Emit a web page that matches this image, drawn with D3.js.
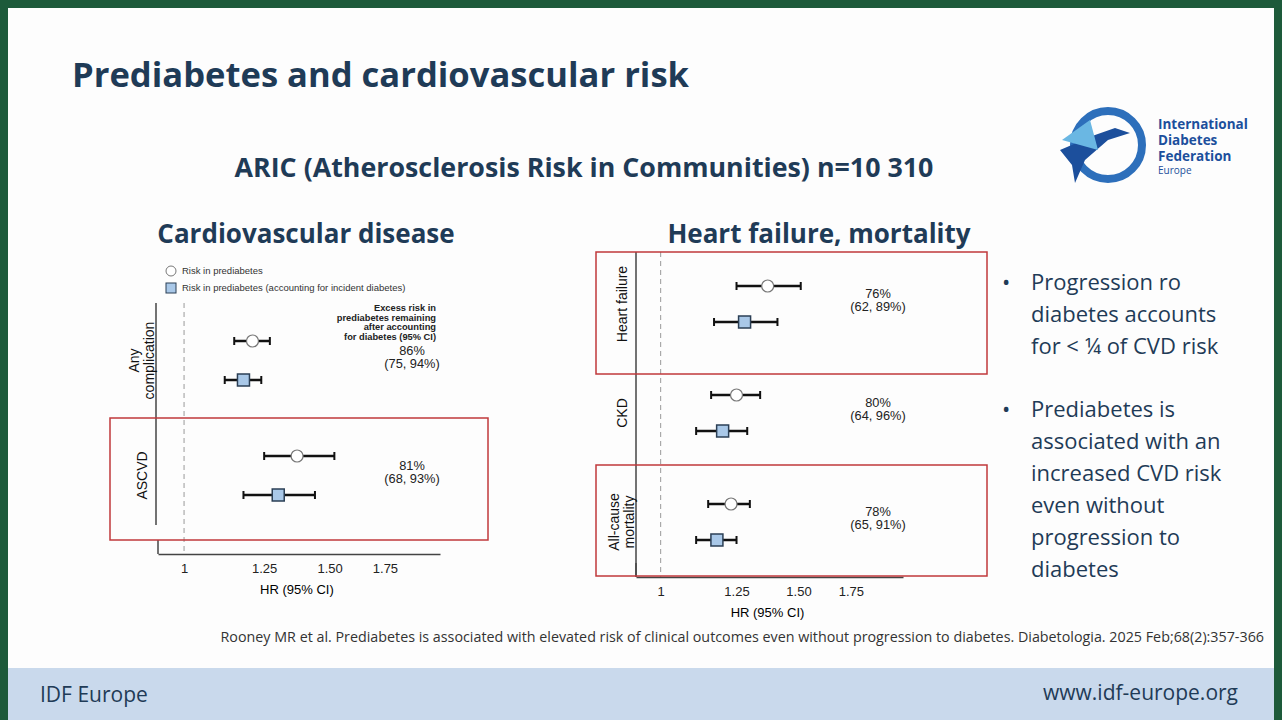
<!DOCTYPE html>
<html><head><meta charset="utf-8">
<script src="https://cdn.jsdelivr.net/npm/d3@7"></script>
<style>
body{margin:0;background:#1d5a3a;}
svg{display:block;font-family:"Open Sans",Arial,sans-serif;}
</style></head>
<body><svg id="c" width="1282" height="720"></svg>
<script>
// data
var leftRows = ["Any complication", "ASCVD"];
var leftCircle = [[1.21, 1.15, 1.27], [1.37, 1.25, 1.52]];
var leftSquare = [[1.18, 1.12, 1.24], [1.30, 1.18, 1.44]];
var leftExcess = [["86%", "(75, 94%)"], ["81%", "(68, 93%)"]];

var rightRows = ["Heart failure", "CKD", "All-cause mortality"];
var rightCircle = [[1.37, 1.25, 1.51], [1.25, 1.16, 1.34], [1.23, 1.15, 1.30]];
var rightSquare = [[1.28, 1.17, 1.41], [1.20, 1.11, 1.29], [1.18, 1.11, 1.25]];
var rightExcess = [["76%", "(62, 89%)"], ["80%", "(64, 96%)"], ["78%", "(65, 91%)"]];

var ticks = [1, 1.25, 1.5, 1.75];
var tickLabels = ["1", "1.25", "1.50", "1.75"];

var svg = d3.select("#c");
var navy = "#1f3b57";

// slide background
svg.append("rect").attr("x", 8).attr("y", 8).attr("width", 1266).attr("height", 712).attr("fill", "#fdfdfd");
svg.append("rect").attr("x", 8).attr("y", 668).attr("width", 1266).attr("height", 52).attr("fill", "#c9d9ec");
svg.append("text").attr("x", 40).attr("y", 702).attr("font-size", 21).attr("fill", navy).text("IDF Europe");
svg.append("text").attr("x", 1238).attr("y", 700).attr("text-anchor", "end").attr("font-size", 21).attr("fill", navy).text("www.idf-europe.org");

svg.append("text").attr("x", 72).attr("y", 87).attr("font-size", 34.6).attr("font-weight", "bold").attr("fill", navy).text("Prediabetes and cardiovascular risk");
svg.append("text").attr("x", 584).attr("y", 177).attr("text-anchor", "middle").attr("font-size", 26.8).attr("font-weight", "bold").attr("fill", navy).text("ARIC (Atherosclerosis Risk in Communities)  n=10 310");
svg.append("text").attr("x", 306).attr("y", 243).attr("text-anchor", "middle").attr("font-size", 26).attr("font-weight", "bold").attr("fill", navy).text("Cardiovascular disease");
svg.append("text").attr("x", 819).attr("y", 243).attr("text-anchor", "middle").attr("font-size", 26).attr("font-weight", "bold").attr("fill", navy).text("Heart failure, mortality");

// logo
var logo = svg.append("g");
logo.append("circle").attr("cx", 1108).attr("cy", 145).attr("r", 34).attr("fill", "none").attr("stroke", "#2d6fbb").attr("stroke-width", 8);
logo.append("path").attr("d", "M1060,150 L1095,135 L1115,128 L1130,133 L1108,140 L1085,160 L1075,183 L1072,165 Z").attr("fill", "#1c4f9c");
logo.append("path").attr("d", "M1062,140 L1090,120 L1098,150 Z").attr("fill", "#6ab7e3");
["International", "Diabetes", "Federation"].forEach(function(t, i) {
  logo.append("text").attr("x", 1158).attr("y", 129 + i * 16).attr("font-size", 13.5).attr("font-weight", "bold").attr("fill", "#1c4f9c").text(t);
});
logo.append("text").attr("x", 1158).attr("y", 174).attr("font-size", 10).attr("fill", "#1c4f9c").text("Europe");

// bullets
var bullets = [["Progression ro", "diabetes accounts", "for < \u00bc of CVD risk"],
  ["Prediabetes is", "associated with an", "increased CVD risk", "even without", "progression to", "diabetes"]];
var by = 290;
bullets.forEach(function(b, bi) {
  svg.append("text").attr("x", 1002).attr("y", by).attr("font-size", 22).attr("fill", navy).text("\u2022");
  b.forEach(function(l, li) {
    svg.append("text").attr("x", 1031).attr("y", by + li * 32).attr("font-size", 22).attr("fill", navy).text(l);
  });
  by += b.length * 32 + 31;
});

svg.append("text").attr("x", 1264).attr("y", 642).attr("text-anchor", "end").attr("font-size", 14.3).attr("fill", "#333")
  .text("Rooney MR et al. Prediabetes is associated with elevated risk of clinical outcomes even without progression to diabetes. Diabetologia. 2025 Feb;68(2):357-366");

function panel(o) {
  var g = svg.append("g");
  var x = d3.scaleLog().domain([0.93, 2.04]).range([o.x0, o.x1]);
  var ax = g.append("g").attr("transform", "translate(0," + o.axisY + ")")
    .call(d3.axisBottom(x).tickValues(ticks).tickSize(0).tickPadding(10).tickFormat(function(d, i) { return tickLabels[i]; }));
  ax.select(".domain").attr("stroke", "#444").attr("stroke-width", 1.5);
  ax.selectAll("text").attr("font-size", 13).attr("fill", "#222").attr("font-family", "Liberation Sans, Arial");
  g.append("text").attr("x", (x(1.25) + x(1.5)) / 2).attr("y", o.axisY + 40).attr("text-anchor", "middle").attr("font-size", 13)
    .attr("font-family", "Liberation Sans, Arial").text("HR (95% CI)");
  g.append("line").attr("x1", o.x0).attr("x2", o.x0).attr("y1", o.axisY - 14).attr("y2", o.axisY).attr("stroke", "#444").attr("stroke-width", 1.5);
  g.append("line").attr("x1", o.x0 - o.vOff).attr("x2", o.x0 - o.vOff).attr("y1", o.vTop).attr("y2", o.vBot).attr("stroke", "#444").attr("stroke-width", 1.5);
  g.append("line").attr("x1", x(1)).attr("x2", x(1)).attr("y1", o.vTop).attr("y2", o.axisY).attr("stroke", "#999").attr("stroke-dasharray", "5,4");

  var y = d3.scaleLinear().domain([0, 1]).range([o.rowY0, o.rowY0 + o.rowStep]);
  o.boxes.forEach(function(bx) {
    g.append("rect").attr("x", bx[0]).attr("y", bx[1]).attr("width", bx[2]).attr("height", bx[3])
      .attr("fill", "none").attr("stroke", "#c0393b").attr("stroke-width", 1.5);
  });
  o.rows.forEach(function(r, i) {
    var cy = y(i), sy = y(i) + o.gap;
    [[o.circ[i], cy], [o.sq[i], sy]].forEach(function(p) {
      var d = p[0], yy = p[1];
      g.append("line").attr("x1", x(d[1])).attr("x2", x(d[2])).attr("y1", yy).attr("y2", yy).attr("stroke", "#111").attr("stroke-width", 2.5);
      [d[1], d[2]].forEach(function(v) {
        g.append("line").attr("x1", x(v)).attr("x2", x(v)).attr("y1", yy - 4).attr("y2", yy + 4).attr("stroke", "#111").attr("stroke-width", 2);
      });
    });
    g.append("circle").attr("cx", x(o.circ[i][0])).attr("cy", cy).attr("r", 6).attr("fill", "#fff").attr("stroke", "#777").attr("stroke-width", 1.2);
    g.append("rect").attr("x", x(o.sq[i][0]) - 6).attr("y", sy - 6).attr("width", 12).attr("height", 12)
      .attr("fill", "#a9c8e8").attr("stroke", "#2b3f55").attr("stroke-width", 1.5);
    var lines = r === "Any complication" ? ["Any", "complication"] : (r === "All-cause mortality" ? ["All-cause", "mortality"] : [r]);
    var lx = o.x0 - o.vOff - 14, ly = (cy + sy) / 2;
    var t = g.append("text").attr("transform", "translate(" + lx + "," + ly + ") rotate(-90)").attr("text-anchor", "middle")
      .attr("font-size", 14).attr("font-family", "Liberation Sans, Arial").attr("fill", "#111");
    lines.forEach(function(l, li) {
      t.append("tspan").attr("x", 0).attr("dy", li === 0 ? (lines.length === 1 ? 0 : -8) + 5 : 15).text(l);
    });
    o.exc[i].forEach(function(l, li) {
      g.append("text").attr("x", o.excX).attr("y", ly - 6 + li * 13).attr("text-anchor", "middle").attr("font-size", 12.8)
        .attr("font-family", "Liberation Sans, Arial").attr("fill", "#222").text(l);
    });
  });
  return x;
}

panel({x0: 158, x1: 440, axisY: 554, vOff: 2, vTop: 303, vBot: 525, rowY0: 341, rowStep: 115, gap: 39,
  rows: leftRows, circ: leftCircle, sq: leftSquare, exc: leftExcess, excX: 412,
  boxes: [[110, 418, 378, 122]]});
panel({x0: 636, x1: 903, axisY: 577, vOff: 0, vTop: 252, vBot: 577, rowY0: 286, rowStep: 109, gap: 36,
  rows: rightRows, circ: rightCircle, sq: rightSquare, exc: rightExcess, excX: 878,
  boxes: [[596, 252, 391, 122], [596, 465, 391, 111]]});

// left legend
svg.append("circle").attr("cx", 171).attr("cy", 271).attr("r", 5).attr("fill", "#fff").attr("stroke", "#777");
svg.append("text").attr("x", 182).attr("y", 274).attr("font-size", 9.5).attr("font-family", "Liberation Sans, Arial").attr("fill", "#333").text("Risk in prediabetes");
svg.append("rect").attr("x", 166).attr("y", 283).attr("width", 10).attr("height", 10).attr("fill", "#a9c8e8").attr("stroke", "#2b3f55");
svg.append("text").attr("x", 182).attr("y", 291).attr("font-size", 9.5).attr("font-family", "Liberation Sans, Arial").attr("fill", "#333").text("Risk in prediabetes (accounting for incident diabetes)");
["Excess risk in", "prediabetes remaining", "after accounting", "for diabetes (95% CI)"].forEach(function(l, i) {
  svg.append("text").attr("x", 436).attr("y", 311 + i * 9.5).attr("text-anchor", "end").attr("font-size", 9.3).attr("font-weight", "bold")
    .attr("font-family", "Liberation Sans, Arial").attr("fill", "#222").text(l);
});
</script></body></html>
